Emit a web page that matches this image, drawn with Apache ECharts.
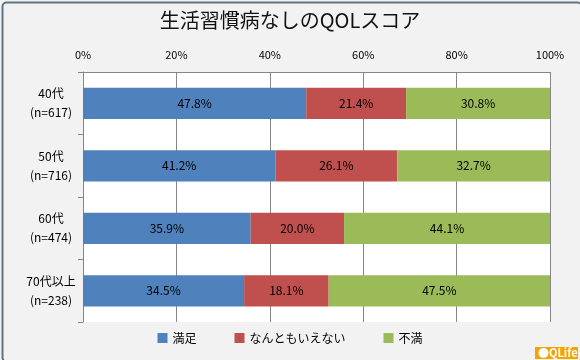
<!DOCTYPE html>
<html><head><meta charset="utf-8">
<script src="https://cdn.jsdelivr.net/npm/echarts@6/dist/echarts.min.js"></script>
<style>html,body{margin:0;padding:0;background:#fff}#c{width:580px;height:360px}</style>
</head><body><div id="c"></div>
<script>
const categories = ['40代\n(n=617)', '50代\n(n=716)', '60代\n(n=474)', '70代以上\n(n=238)'];
const seriesNames = ['満足', 'なんともいえない', '不満'];
const satisfied = [47.8, 41.2, 35.9, 34.5];
const neutral = [21.4, 26.1, 20.0, 18.1];
const unsatisfied = [30.8, 32.7, 44.1, 47.5];
const xTicks = [0, 20, 40, 60, 80, 100];
const colors = ['#4f81bd', '#c0504d', '#9bbb59'];
const font = '"Noto Sans CJK JP", "Noto Sans", sans-serif';

const chart = echarts.init(document.getElementById('c'));
const mk = (name, data, i) => ({
  name, type: 'bar', stack: 'all', data, barWidth: '50%',
  itemStyle: { color: colors[i] },
  label: { show: true, position: 'inside', color: '#000', fontSize: 12, fontFamily: font,
    formatter: p => p.value.toFixed(1) + '%' }
});
chart.setOption({
  backgroundColor: '#f2f2f2',
  animation: false,
  title: { text: '生活習慣病なしのQOLスコア', left: 'center', top: 5,
    textStyle: { fontSize: 20, fontWeight: 'normal', color: '#111', fontFamily: font } },
  legend: { bottom: 11, left: 'center', itemWidth: 10, itemHeight: 10, itemGap: 38, icon: 'rect',
    textStyle: { fontSize: 12, color: '#000', fontFamily: font }, data: seriesNames },
  grid: { left: 83, right: 30, top: 72, bottom: 38, show: true, backgroundColor: '#fff', borderWidth: 0 },
  xAxis: { type: 'value', position: 'top', min: xTicks[0], max: xTicks[xTicks.length - 1], interval: 20,
    axisLine: { show: true, lineStyle: { color: '#868686' } },
    axisTick: { show: false },
    splitLine: { show: true, lineStyle: { color: '#868686' } },
    axisLabel: { formatter: '{value}%', fontSize: 11, color: '#000', fontFamily: font, margin: 12 } },
  yAxis: { type: 'category', inverse: true, data: categories,
    axisLine: { show: true, lineStyle: { color: '#868686' } },
    axisTick: { show: true, length: 5, lineStyle: { color: '#868686' } },
    axisLabel: { fontSize: 12, color: '#000', fontFamily: font, align: 'center', margin: 32, lineHeight: 19 } },
  series: [mk(seriesNames[0], satisfied, 0), mk(seriesNames[1], neutral, 1), mk(seriesNames[2], unsatisfied, 2)],
  graphic: [
    { type: 'rect', left: 0, top: 0, shape: { width: 579, height: 359, r: 4 },
      style: { fill: 'none', stroke: '#5f7581', lineWidth: 2 }, z: 100 },
    { type: 'rect', left: 535, top: 347, shape: { width: 43, height: 12 }, style: { fill: '#f5a300' }, z: 99 },
    { type: 'text', left: 538, top: 347, style: { text: '●QLife', fill: '#fff', fontSize: 11, fontFamily: font, fontWeight: 'bold' }, z: 101 }
  ]
});
</script></body></html>
